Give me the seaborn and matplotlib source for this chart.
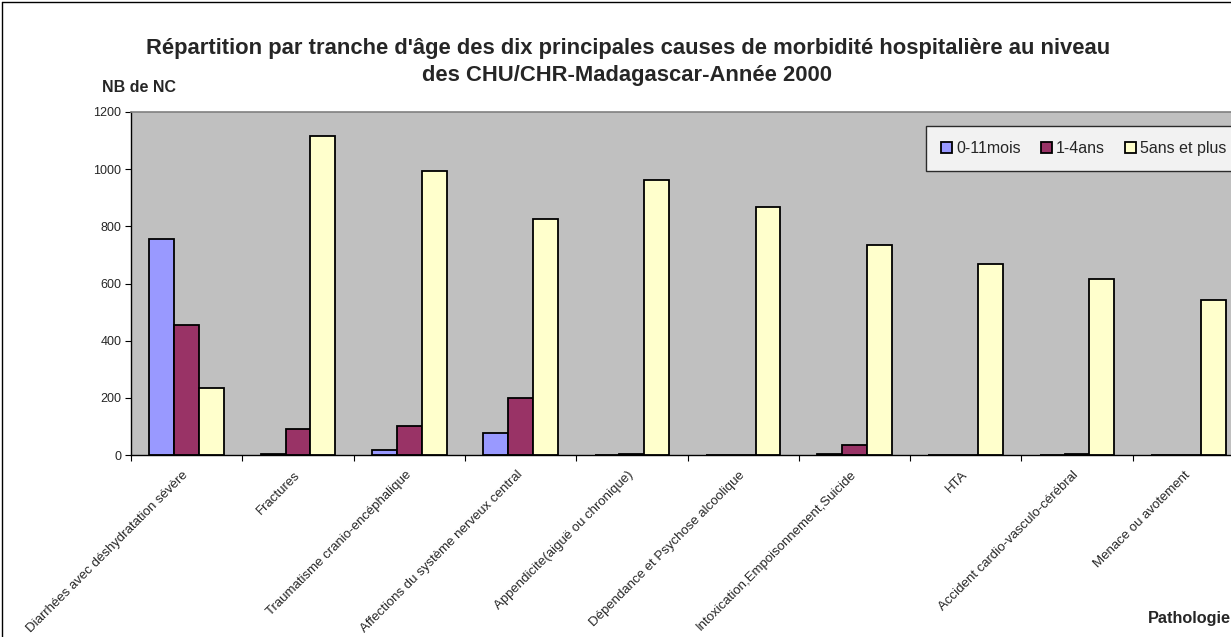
import matplotlib
matplotlib.use("Agg")
import matplotlib.pyplot as plt
import matplotlib.transforms as mtransforms
import seaborn as sns
import pandas as pd
import numpy as np
from matplotlib.patches import Patch
from matplotlib.lines import Line2D

categories = [
    "Diarrhées avec déshydratation sévère",
    "Fractures",
    "Traumatisme cranio-encéphalique",
    "Affections du système nerveux central",
    "Appendicite(aiguë ou chronique)",
    "Dépendance et Psychose alcoolique",
    "Intoxication,Empoisonnement,Suicide",
    "HTA",
    "Accident cardio-vasculo-cérébral",
    "Menace ou avotement",
]
series_names = ["0-11mois", "1-4ans", "5ans et plus"]
v_0_11mois = [754, 3, 17, 77, 0, 0, 5, 0, 0, 0]
v_1_4ans = [455, 91, 101, 198, 3, 0, 35, 0, 3, 0]
v_5ans_plus = [236, 1116, 994, 825, 961, 868, 734, 668, 615, 542]
colors = ["#9999FF", "#993366", "#FFFFCC"]
yticks = [0, 200, 400, 600, 800, 1000, 1200]

df = pd.DataFrame({
    "Pathologie": categories * 3,
    "Groupe": [s for s in series_names for _ in categories],
    "NB": v_0_11mois + v_1_4ans + v_5ans_plus,
})

sns.set_theme(style="white")
plt.rcParams["font.family"] = ["Liberation Sans", "DejaVu Sans"]

W, H = 1231, 637
fig = plt.figure(figsize=(W / 100, H / 100), dpi=100)
ax = fig.add_axes([131 / W, 1 - 455 / H, 1113 / W, 343 / H])
ax.set_facecolor("#C0C0C0")

sns.barplot(data=df, x="Pathologie", y="NB", hue="Groupe", order=categories,
            hue_order=series_names, palette=colors, width=0.67, gap=0,
            edgecolor="black", linewidth=1.3, saturation=1, ax=ax, legend=False)

ax.set_ylim(0, 1200)
ax.set_xlim(-0.5, len(categories) - 0.5)
ax.set_yticks(yticks)
ax.set_yticklabels([str(t) for t in yticks], fontsize=9)
ax.set_xticks(np.arange(len(categories)))
ax.set_xticklabels(categories, rotation=45, ha="right", va="center",
                   rotation_mode="anchor", fontsize=9.5)
offset = mtransforms.ScaledTranslation(-5 / 100, 0, fig.dpi_scale_trans)
for lab in ax.get_xticklabels():
    lab.set_transform(lab.get_transform() + offset)
ax.set_xticks(np.arange(len(categories) + 1) - 0.5, minor=True)
ax.tick_params(axis="x", which="major", length=0, pad=13)
ax.tick_params(axis="x", which="minor", length=4, width=0.8, color="black", direction="out", bottom=True)
ax.tick_params(axis="y", length=4, width=0.8, color="black", direction="out", left=True, pad=3)
ax.set_xlabel("")
ax.set_ylabel("")
for s in ["left", "bottom"]:
    ax.spines[s].set_color("black")
    ax.spines[s].set_linewidth(1)
for s in ["top", "right"]:
    ax.spines[s].set_color("#808080")
    ax.spines[s].set_linewidth(1.2)

handles = [Patch(facecolor=c, edgecolor="black", linewidth=1.3) for c in colors]
leg = ax.legend(handles, series_names, loc="upper left", bbox_to_anchor=(0.714, 0.959),
                borderaxespad=0, ncol=3, frameon=True, fancybox=False, fontsize=11.5,
                handlelength=0.7, handleheight=0.7, handletextpad=0.25, columnspacing=1.25,
                borderpad=0.95)
leg.get_frame().set_edgecolor("black")
leg.get_frame().set_linewidth(1)
leg.get_frame().set_facecolor("white")

fig.text(628 / W, 1 - 54 / H,
         "Répartition par tranche d'âge des dix principales causes de morbidité hospitalière au niveau",
         ha="center", va="baseline", fontsize=15.8, fontweight="bold")
fig.text(627 / W, 1 - 81 / H, "des CHU/CHR-Madagascar-Année 2000",
         ha="center", va="baseline", fontsize=15.8, fontweight="bold")
fig.text(102 / W, 1 - 92 / H, "NB de NC", ha="left", va="baseline", fontsize=11.5, fontweight="bold")
fig.text(1230.5 / W, 1 - 623 / H, "Pathologie", ha="right", va="baseline", fontsize=11.7, fontweight="bold")

fig.add_artist(Line2D([2 / W, 2 / W], [0, 1 - 2 / H], color="black", lw=1, transform=fig.transFigure))
fig.add_artist(Line2D([2 / W, 1], [1 - 2 / H, 1 - 2 / H], color="black", lw=1, transform=fig.transFigure))

fig.savefig("out.png", dpi=100)
